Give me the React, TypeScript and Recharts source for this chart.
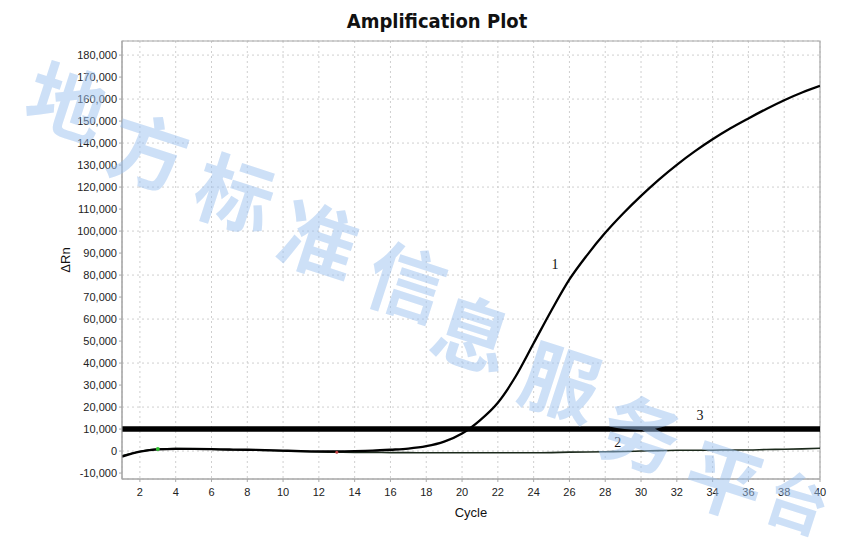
import {
  CartesianGrid,
  Label,
  Line,
  LineChart,
  ReferenceArea,
  ReferenceDot,
  ReferenceLine,
  XAxis,
  YAxis,
} from "recharts";

const cycles = [
  1, 2, 3, 4, 5, 6, 7, 8, 9, 10, 11, 12, 13, 14, 15, 16, 17, 18, 19, 20, 21,
  22, 23, 24, 25, 26, 27, 28, 29, 30, 31, 32, 33, 34, 35, 36, 37, 38, 39, 40,
];

// sample 1: amplified curve
const sample1 = [
  -2500, -300, 800, 1000, 1000, 900, 700, 600, 400, 200, 0, -100, -100, 0, 200,
  600, 1100, 2200, 4300, 8000, 14000, 22000, 34000, 49000, 64000, 78000, 89200,
  99200, 108000, 116000, 123400, 130100, 136200, 141700, 146700, 151200,
  155500, 159500, 163000, 166000,
];

// sample 2: flat curve
const sample2 = [
  -2200, -200, 900, 1100, 1000, 800, 600, 500, 300, 100, -200, -400, -500, -600,
  -600, -700, -700, -800, -800, -800, -800, -800, -800, -800, -700, -500, -400,
  -300, -200, 0, 200, 400, 400, 400, 500, 500, 700, 800, 1000, 1300,
];

const THRESHOLD = 10000;

const xTicks = [
  2, 4, 6, 8, 10, 12, 14, 16, 18, 20, 22, 24, 26, 28, 30, 32, 34, 36, 38, 40,
];
const yTicks = [
  -10000, 0, 10000, 20000, 30000, 40000, 50000, 60000, 70000, 80000, 90000,
  100000, 110000, 120000, 130000, 140000, 150000, 160000, 170000, 180000,
];

const X_DOMAIN: [number, number] = [1, 40];
const Y_DOMAIN: [number, number] = [-12700, 186400];

const curveLabels = [
  { name: "1", cycle: 25.2, value: 84800 },
  { name: "2", cycle: 28.7, value: 4100 },
  { name: "3", cycle: 33.3, value: 16400 },
];

const watermark = "地方标准信息服务平台".split("");
const watermarkPos = [
  [68, 98],
  [150, 148],
  [236, 190],
  [320, 236],
  [408, 278],
  [474, 330],
  [562, 378],
  [642, 430],
  [726, 476],
  [798, 500],
];

const data = cycles.map((c, i) => ({ cycle: c, s1: sample1[i], s2: sample2[i] }));

const fmt = (v: number) => v.toLocaleString("en-US");

export default function App() {
  return (
    <div
      style={{
        position: "absolute",
        left: 0,
        top: 0,
        width: 851,
        height: 560,
        background: "#fff",
        fontFamily: "'Liberation Sans', Arial, sans-serif",
      }}
    >
      <div
        style={{
          position: "absolute",
          left: 0,
          top: 9,
          width: 874,
          textAlign: "center",
          fontFamily: "'DejaVu Sans Condensed', 'DejaVu Sans', sans-serif",
          fontWeight: 700,
          fontSize: 20,
          color: "#111",
        }}
      >
        Amplification Plot
      </div>
      <LineChart
        width={851}
        height={560}
        data={data}
        margin={{ top: 41, right: 31, left: 0, bottom: 51 }}
      >
        <CartesianGrid stroke="#cfcfcf" strokeDasharray="2 3" />
        <ReferenceArea
          x1={X_DOMAIN[0]}
          x2={X_DOMAIN[1]}
          y1={Y_DOMAIN[0]}
          y2={Y_DOMAIN[1]}
          fill="none"
          stroke="#a8a8a8"
          strokeWidth={1.2}
        />
        <XAxis
          dataKey="cycle"
          type="number"
          domain={X_DOMAIN}
          ticks={xTicks}
          allowDataOverflow
          height={30}
          stroke="#a8a8a8"
          tickSize={3}
          tickMargin={6}
          tick={{ fill: "#222", fontSize: 11 }}
        >
          <Label
            value="Cycle"
            position="insideBottom"
            offset={-8}
            style={{ fill: "#111", fontSize: 13 }}
          />
        </XAxis>
        <YAxis
          type="number"
          domain={Y_DOMAIN}
          ticks={yTicks}
          allowDataOverflow
          width={122}
          stroke="#a8a8a8"
          tickSize={3}
          tickMargin={2}
          tickFormatter={fmt}
          tick={{ fill: "#222", fontSize: 11 }}
        >
          <Label
            value="ΔRn"
            angle={-90}
            position="center"
            dx={4}
            style={{ fill: "#111", fontSize: 13 }}
          />
        </YAxis>
        <ReferenceLine y={THRESHOLD} stroke="#000" strokeWidth={5.5} />
        <Line
          dataKey="s2"
          type="monotone"
          stroke="#1c2a1c"
          strokeWidth={1.6}
          dot={false}
          isAnimationActive={false}
        />
        <Line
          dataKey="s1"
          type="monotone"
          stroke="#000"
          strokeWidth={2.3}
          dot={false}
          isAnimationActive={false}
        />
        <ReferenceDot x={3} y={900} r={2} fill="#2fbf2f" stroke="none" />
        <ReferenceDot x={13} y={-500} r={1.5} fill="#c04040" stroke="none" />
        {curveLabels.map((l) => (
          <ReferenceDot
            key={l.name}
            x={l.cycle}
            y={l.value}
            r={1}
            fill="none"
            stroke="none"
            label={{
              value: l.name,
              position: "center",
              style: {
                fill: "#111",
                fontSize: 14,
                fontFamily: "'Liberation Serif', 'Times New Roman', serif",
              },
            }}
          />
        ))}
      </LineChart>
      <svg
        width={851}
        height={560}
        style={{ position: "absolute", left: 0, top: 0, pointerEvents: "none" }}
      >
        {watermark.map((ch, i) => (
          <text
            key={i}
            x={watermarkPos[i][0]}
            y={watermarkPos[i][1]}
            transform={`rotate(18 ${watermarkPos[i][0]} ${watermarkPos[i][1]})`}
            textAnchor="middle"
            dominantBaseline="central"
            fontSize={i === watermark.length - 1 ? 62 : 78}
            fontWeight={700}
            fontFamily="'Noto Sans CJK SC', sans-serif"
            fill="#9cc2f0"
            opacity={0.5}
          >
            {ch}
          </text>
        ))}
      </svg>
    </div>
  );
}
